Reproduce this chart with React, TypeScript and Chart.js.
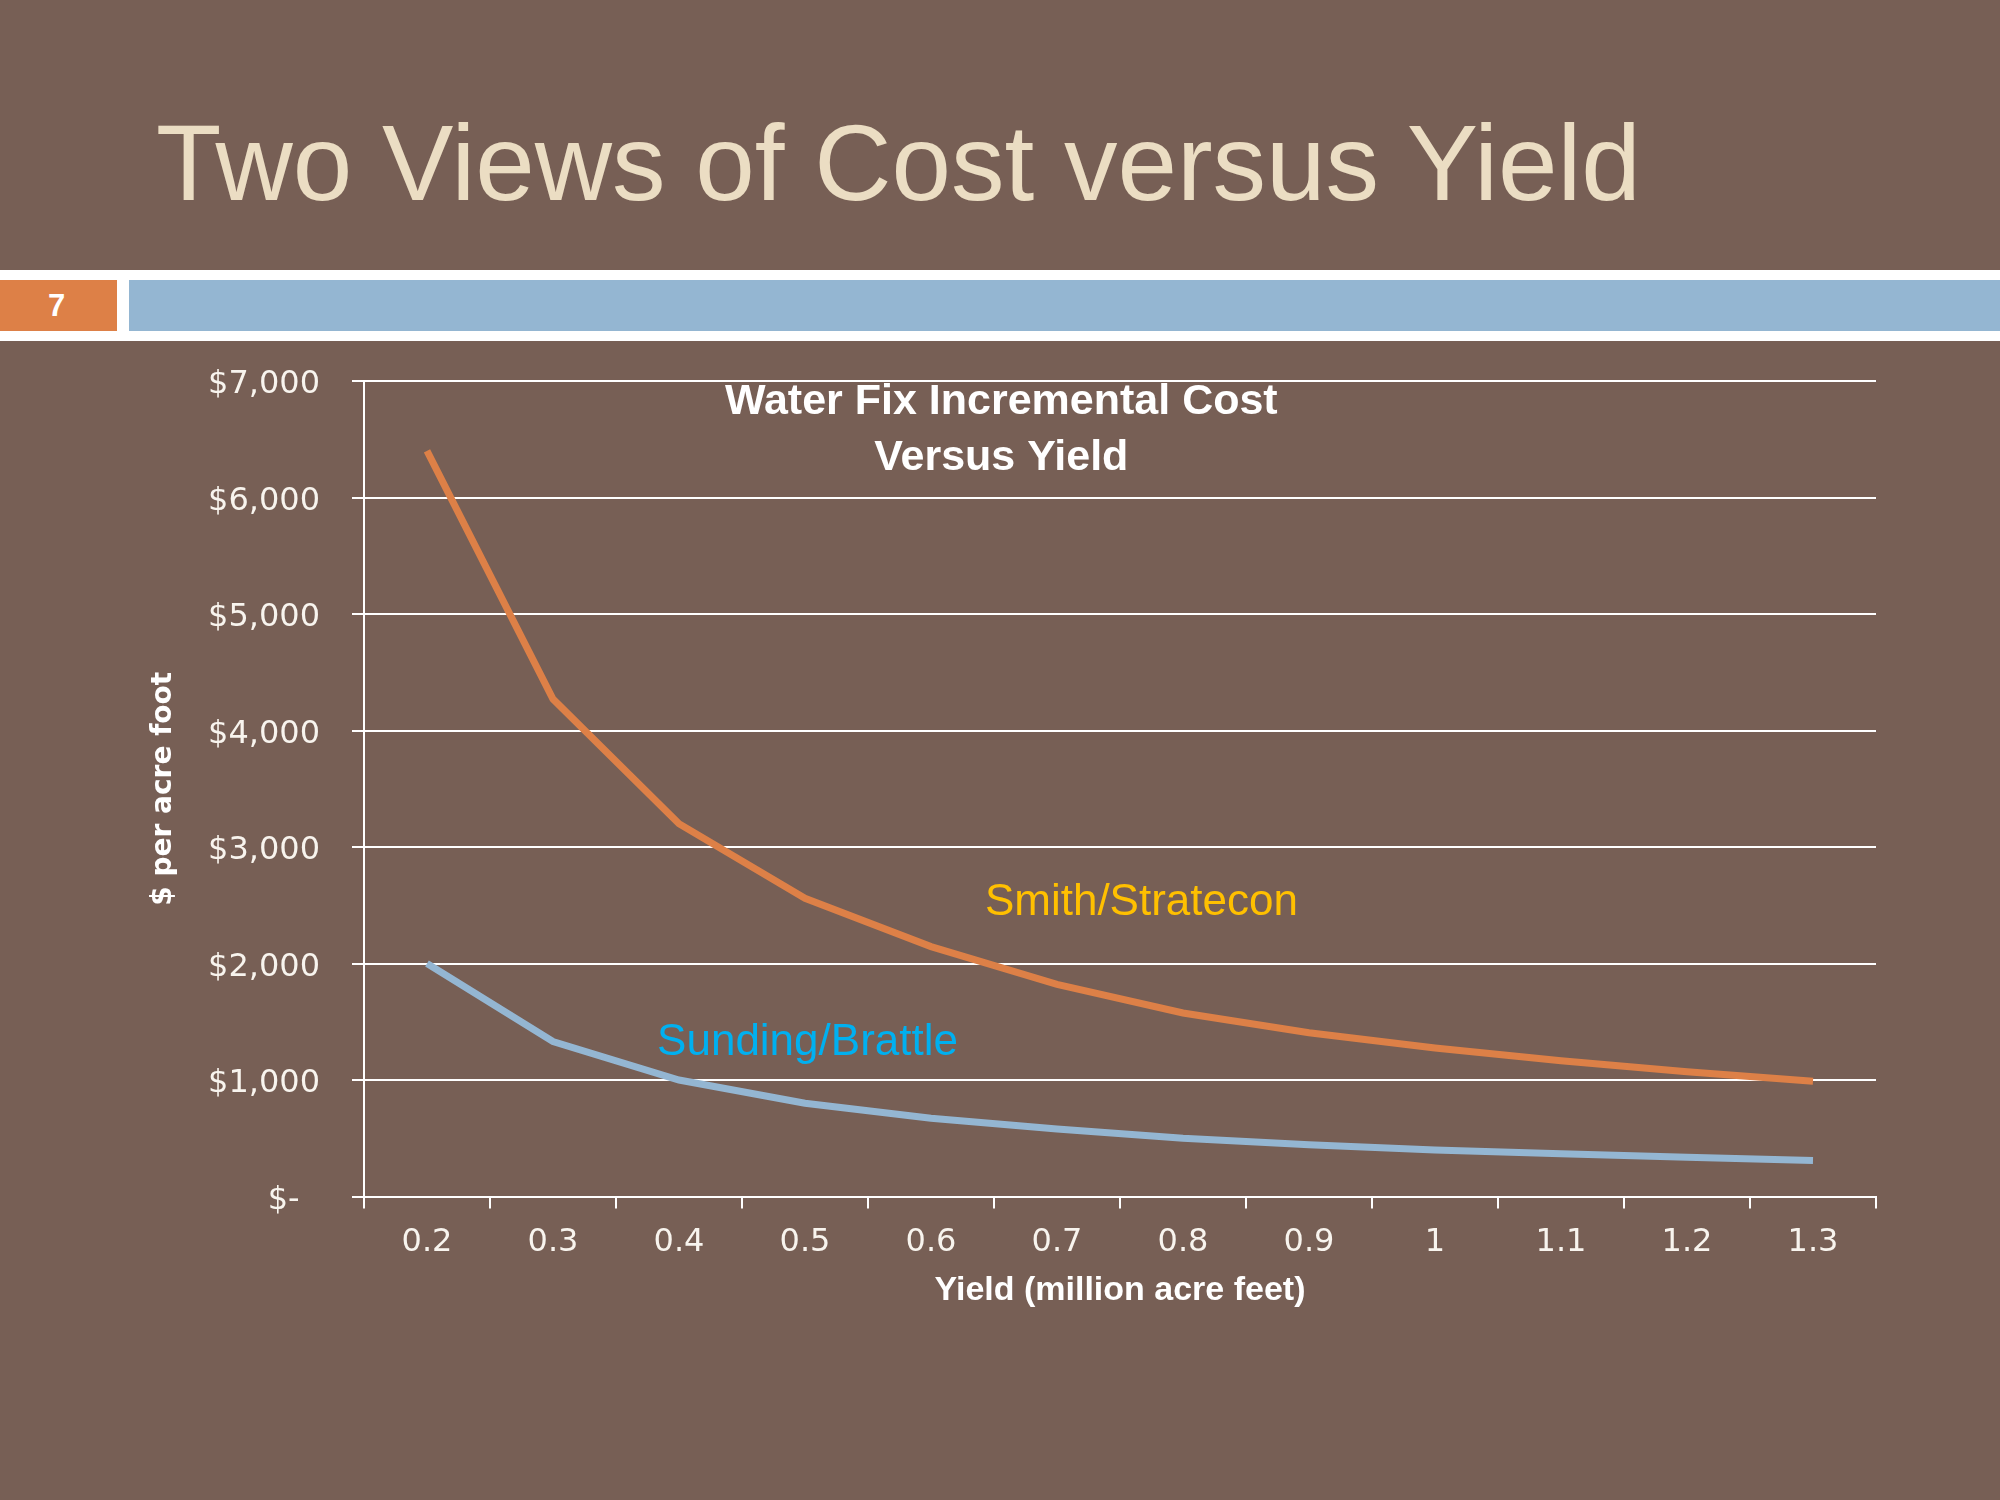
import React, { useEffect, useRef } from 'react';
import { Chart, registerables } from 'chart.js';

Chart.register(...registerables);

// ---- data ----
const yieldLabels = ['0.2', '0.3', '0.4', '0.5', '0.6', '0.7', '0.8', '0.9', '1', '1.1', '1.2', '1.3'];
const smithStratecon = [6400, 4270, 3200, 2560, 2145, 1820, 1575, 1405, 1275, 1165, 1070, 990];
const sundingBrattle = [2000, 1330, 1000, 800, 672, 580, 500, 444, 400, 367, 336, 308];
const yTickValues = [0, 1000, 2000, 3000, 4000, 5000, 6000, 7000];
const yTickLabels = ['$-  ', '$1,000', '$2,000', '$3,000', '$4,000', '$5,000', '$6,000', '$7,000'];
const chartTitleLines = ['Water Fix Incremental Cost', 'Versus Yield'];
const seriesNames = ['Smith/Stratecon', 'Sunding/Brattle'];

const BG = '#775F55';
const ORANGE = '#DD8047';
const BLUE = '#94B6D2';
const CREAM = '#EBDDC3';

const overlayPlugin = {
  id: 'overlayText',
  afterDatasetsDraw(chart: any) {
    const { ctx, chartArea, scales } = chart;
    const x = scales.x;
    const y = scales.y;
    ctx.save();
    // chart title inside the plot area
    ctx.fillStyle = '#FFFFFF';
    ctx.font = 'bold 43px "Liberation Sans", Arial, sans-serif';
    ctx.textAlign = 'center';
    ctx.textBaseline = 'alphabetic';
    const cx = chartArea.left + chartArea.width * 0.4215;
    ctx.fillText(chartTitleLines[0], cx, chartArea.top + 33);
    ctx.fillText(chartTitleLines[1], cx, chartArea.top + 89);
    // series labels
    ctx.font = '44px "Liberation Sans", Arial, sans-serif';
    ctx.textBaseline = 'middle';
    ctx.fillStyle = '#FFC000';
    ctx.fillText(seriesNames[0], x.getPixelForValue(5.67), y.getPixelForValue(2520));
    ctx.fillStyle = '#00B0F0';
    ctx.fillText(seriesNames[1], x.getPixelForValue(3.02), y.getPixelForValue(1320));
    ctx.restore();
  },
};

function CostChart() {
  const ref = useRef<HTMLCanvasElement | null>(null);
  useEffect(() => {
    if (!ref.current) return;
    const chart = new Chart(ref.current, {
      type: 'line',
      data: {
        labels: yieldLabels,
        datasets: [
          {
            label: seriesNames[0],
            data: smithStratecon,
            borderColor: ORANGE,
            backgroundColor: ORANGE,
            borderWidth: 7,
            pointRadius: 0,
            tension: 0,
          },
          {
            label: seriesNames[1],
            data: sundingBrattle,
            borderColor: BLUE,
            backgroundColor: BLUE,
            borderWidth: 7,
            pointRadius: 0,
            tension: 0,
          },
        ],
      },
      options: {
        responsive: false,
        animation: false,
        devicePixelRatio: 1,
        layout: { padding: { left: 0, top: 21, right: 24, bottom: 0 } },
        plugins: {
          legend: { display: false },
          tooltip: { enabled: false },
          title: { display: false },
        },
        scales: {
          x: {
            type: 'category',
            offset: true,
            grid: {
              display: true,
              offset: true,
              drawOnChartArea: false,
              drawTicks: true,
              tickLength: 12,
              color: '#FFFFFF',
              lineWidth: 2,
            },
            border: { display: true, color: '#FFFFFF', width: 2 },
            ticks: {
              color: '#F8F4EE',
              font: { family: '"DejaVu Sans", sans-serif', size: 32 },
              padding: 15,
              maxRotation: 0,
              autoSkip: false,
            },
            title: {
              display: true,
              text: 'Yield (million acre feet)',
              color: '#FFFFFF',
              font: { family: '"Liberation Sans", Arial, sans-serif', size: 34, weight: 'bold' },
              padding: { top: 0, bottom: 48.6 },
            },
            afterFit: (scale: any) => {
              scale.height = 163.5;
              scale.paddingLeft = 0;
              scale.paddingRight = 0;
            },
          },
          y: {
            min: 0,
            max: 7000,
            afterBuildTicks: (scale: any) => {
              scale.ticks = yTickValues.map((v) => ({ value: v }));
            },
            grid: {
              color: '#FFFFFF',
              lineWidth: 2,
              tickLength: 12,
              drawTicks: true,
            },
            border: { display: true, color: '#FFFFFF', width: 2 },
            ticks: {
              color: '#F8F4EE',
              font: { family: '"DejaVu Sans", sans-serif', size: 32 },
              padding: 32,
              labelOffset: 4,
              callback: (value: any) => {
                const i = yTickValues.indexOf(Number(value));
                return i >= 0 ? yTickLabels[i] : '';
              },
            },
            title: {
              display: true,
              text: '$ per acre foot',
              color: '#FFFFFF',
              font: { family: '"DejaVu Sans", sans-serif', size: 28, weight: 'bold' },
              padding: { top: 47.2, bottom: 0 },
            },
            afterFit: (scale: any) => {
              scale.width = 264;
              scale.paddingTop = 0;
              scale.paddingBottom = 0;
            },
          },
        },
      },
      plugins: [overlayPlugin],
    } as any);
    return () => chart.destroy();
  }, []);
  return (
    <canvas
      ref={ref}
      width={1800}
      height={1000}
      style={{ position: 'absolute', left: 100, top: 360, width: 1800, height: 1000 }}
    />
  );
}

export default function App() {
  useEffect(() => {
    document.body.style.margin = '0';
    document.body.style.background = BG;
  }, []);
  return (
    <div
      style={{
        position: 'fixed',
        left: 0,
        top: 0,
        width: 2000,
        height: 1500,
        background: BG,
        overflow: 'hidden',
      }}
    >
      <div
        style={{
          position: 'absolute',
          left: 156,
          top: 110,
          fontFamily: '"Liberation Sans", Arial, sans-serif',
          fontSize: 107,
          lineHeight: '106px',
          color: CREAM,
          whiteSpace: 'nowrap',
        }}
      >
        Two Views of Cost versus Yield
      </div>
      <div style={{ position: 'absolute', left: 0, top: 270, width: 2000, height: 71, background: '#FFFFFF' }} />
      <div
        style={{
          position: 'absolute',
          left: 0,
          top: 280,
          width: 117,
          height: 51,
          background: ORANGE,
          color: '#FFFFFF',
          fontFamily: '"Liberation Sans", Arial, sans-serif',
          fontWeight: 'bold',
          fontSize: 31,
          lineHeight: '51px',
          textAlign: 'center',
          boxSizing: 'border-box',
          paddingRight: 4,
        }}
      >
        7
      </div>
      <div style={{ position: 'absolute', left: 129, top: 280, width: 1871, height: 51, background: BLUE }} />
      <CostChart />
    </div>
  );
}
